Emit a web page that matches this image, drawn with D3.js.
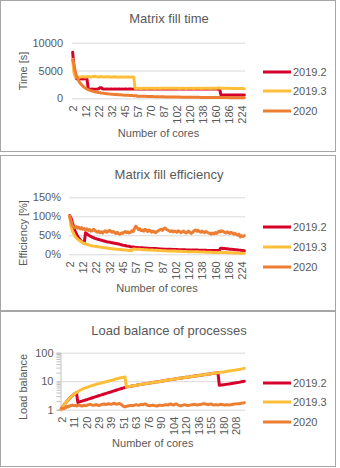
<!DOCTYPE html>
<html>
<head>
<meta charset="utf-8">
<script src="https://cdn.jsdelivr.net/npm/d3@7"></script>
<style>
  body { margin: 0; background: #fff; }
  text { font-family: "Liberation Sans", Arial, sans-serif; fill: #595959; }
</style>
</head>
<body>
<div id="chart"></div>
<script>
// core counts shared by all three charts (category axis)
var cores = [
  2,3,4,5,6,7,8,9,10,11,
  12,13,14,15,16,17,18,19,20,21,
  22,23,24,25,26,27,28,29,30,31,
  32,33,34,35,36,38,39,40,42,44,
  45,46,48,49,50,51,52,54,55,56,
  57,58,60,62,63,64,65,66,68,69,
  70,72,75,76,78,80,81,82,84,85,
  87,88,90,91,92,93,95,96,98,100,
  102,104,105,108,110,111,112,114,115,117,
  120,121,122,125,126,128,130,132,135,136,
  138,140,143,144,145,147,150,152,155,156,
  160,161,165,168,170,175,176,180,182,184,
  186,189,192,195,200,204,208,210,216,220,
  224,230,240
];

var versions = ["2019.2", "2019.3", "2020"];
var colors = ["#d6002b", "#fdbf3a", "#ed7d31"];

// matrix fill time [s]
var time2019_2 = [
  8300,5600,4300,3500,3500,3480,3500,3500,3480,3500,
  3500,3480,1650,1640,1650,1660,1650,1640,1650,1660,
  1700,1900,1920,1700,1660,1650,1670,1660,1650,1660,
  1660,1650,1670,1660,1650,1660,1670,1650,1660,1650,
  1660,1670,1650,1660,1670,1660,1650,1660,1670,1660,
  1650,1660,1670,1660,1650,1660,1670,1680,1660,1650,
  1660,1670,1660,1650,1660,1670,1660,1650,1660,1670,
  1660,1650,1660,1670,1680,1670,1660,1650,1660,1670,
  1660,1650,1660,1670,1660,1650,1660,1670,1660,1650,
  1660,1670,1680,1670,1660,1650,1660,1670,1660,1650,
  1660,1670,1660,1650,1660,1670,1680,1670,1660,1650,
  1660,1650,1670,1660,600,590,600,610,600,590,
  600,600,610,600,590,600,600,610,600,590,
  600,600,600
];
var time2019_3 = [
  7000,4600,3800,3820,3850,3800,3830,3870,3900,3850,
  3820,3880,3900,3860,3830,3870,3920,3950,3900,3870,
  3850,3880,3900,3870,3850,3830,3860,3880,3850,3830,
  3820,3850,3870,3850,3830,3800,3820,3850,3830,3810,
  3800,3820,3840,3820,3800,3810,3830,3800,1800,1780,
  1790,1800,1780,1770,1790,1810,1800,1780,1790,1800,
  1820,1800,1790,1780,1800,1810,1790,1780,1800,1820,
  1810,1790,1800,1820,1830,1810,1800,1790,1800,1810,
  1800,1790,1780,1800,1820,1810,1790,1780,1790,1800,
  1810,1800,1790,1780,1790,1800,1810,1800,1790,1780,
  1790,1800,1810,1820,1800,1790,1780,1790,1800,1810,
  1820,1830,1850,1840,1820,1800,1790,1780,1790,1800,
  1790,1780,1770,1780,1790,1780,1770,1760,1770,1760,
  1760,1750,1740
];
var time2020 = [
  6900,6100,4800,4000,3500,3000,2650,2400,2150,1950,
  1800,1650,1560,1480,1380,1320,1240,1180,1120,1080,
  1040,1010,960,930,890,860,830,800,780,750,
  730,710,700,680,670,650,660,640,610,580,
  570,560,540,530,520,510,500,480,470,460,
  370,390,385,375,365,358,352,346,340,334,
  325,320,305,300,295,285,280,275,270,265,
  260,255,250,245,245,240,235,230,228,225,
  220,215,212,208,205,200,198,195,192,190,
  185,183,182,178,176,174,170,168,165,163,
  160,158,155,153,152,150,148,146,144,142,
  140,138,135,133,132,130,128,126,125,124,
  122,120,118,117,115,113,112,111,110,108,
  106,105,104
];

// matrix fill efficiency [%]
var eff2019_2 = [
  102,96,84,73,62,54,47,42,38,34,
  31,29,57,54,51,49,47,45,44,42,
  41,40,39,38,37,36,35,34,33,32.5,
  32,31,30.5,30,29,28.5,28,27,26,25,
  24,23.5,23,22,21.5,21,20,19.5,19,18.5,
  18,18,17.5,17.5,17,17,16.5,16.5,16,16,
  16,15.5,15.5,15,15,15,14.5,14.5,14,14,
  14,13.5,13.5,13.5,13,13,13,13,12.5,12.5,
  12.5,12.5,12,12,12,12,12,12,11.5,11.5,
  11.5,11.5,11,11,11,11,11,11,10.5,10.5,
  10.5,10.5,10.5,10.5,10,10,10,10,10,10,
  10,10,10,10,16,16,15.5,15,14.5,14.5,
  14,13.5,13,13,12.5,12,12,11.5,11,10.5,
  10,10,9.5
];
var eff2019_3 = [
  100,74,62,55,48,43,40,37,35,32,
  30,29,27,26,25,24,23,22,21.5,21,
  20.5,20,19.5,19,18.5,18,17.5,17,16.5,16,
  15.5,15,14.5,14,14,13.5,13,13,12.5,12,
  12,11.5,11,11,10.5,10,10,9.5,14,14,
  13.5,13.5,13,13,12.5,12.5,12,12,12,11.5,
  11.5,11,11,11,10.5,10.5,10.5,10,10,10,
  9.5,9.5,9.5,9,9,9,9,8.5,8.5,8.5,
  8.5,8,8,8,8,7.5,7.5,7.5,7.5,7,
  7,7,7,7,6.5,6.5,6.5,6.5,6,6,
  6,6,6,5.5,5.5,5.5,5.5,5.5,5,5,
  5,5,5,5,4.5,4.5,4.5,4.5,4.5,4,
  4,4,4,4,3.5,3.5,3.5,3.5,3.5,3,
  3,3,3
];
var eff2020 = [
  100,88,76,72,70,73,69,71,67,70,
  66,68,64,67,63,65,61,62,66,63,
  60,58,61,57,59,56,60,62,58,60,
  63,61,58,60,57,55,58,54,53,56,
  55,58,60,57,59,56,58,62,60,68,
  74,70,65,67,62,64,61,66,63,60,
  64,62,58,61,59,57,60,62,64,66,
  63,67,69,66,64,62,60,62,59,61,
  60,58,62,60,57,59,61,58,56,59,
  61,57,55,58,62,64,61,63,60,58,
  61,59,57,60,58,56,55,53,56,54,
  57,55,58,61,59,62,60,58,56,59,
  57,55,58,56,53,55,52,50,53,46,
  49,47,49
];

// load balance of processes
var lb2019_2 = [
  1.0,1.2,1.45,1.7,1.95,2.2,2.5,2.8,3.1,3.4,
  3.7,4.0,1.8,1.87,1.94,2.0,2.08,2.15,2.23,2.31,
  2.4,2.48,2.57,2.67,2.76,2.86,2.97,3.08,3.19,3.3,
  3.42,3.55,3.68,3.81,3.95,4.09,4.24,4.4,4.56,4.72,
  4.9,5.07,5.26,5.45,5.65,5.85,6.1,6.3,6.4,6.5,
  6.6,6.75,6.9,7.1,7.2,7.35,7.5,7.6,7.8,7.9,
  8.05,8.2,8.4,8.55,8.7,8.85,9.0,9.15,9.3,9.5,
  9.65,9.8,10.0,10.2,10.4,10.6,10.8,11.0,11.2,11.4,
  11.6,11.8,12.0,12.2,12.4,12.6,12.8,13.0,13.2,13.4,
  13.7,13.9,14.1,14.4,14.6,14.8,15.1,15.3,15.6,15.8,
  16.1,16.3,16.6,16.9,17.1,17.4,17.7,18.0,18.3,18.6,
  18.9,19.2,19.5,19.8,7.2,7.3,7.4,7.5,7.6,7.75,
  7.9,8.0,8.15,8.3,8.45,8.6,8.75,8.9,9.1,9.3,
  9.5,9.7,10.0
];
var lb2019_3 = [
  1.0,1.2,1.45,1.7,1.95,2.2,2.5,2.8,3.1,3.4,
  3.7,4.0,4.3,4.6,4.9,5.2,5.45,5.7,5.95,6.2,
  6.45,6.7,6.95,7.2,7.45,7.7,7.95,8.2,8.45,8.7,
  8.95,9.2,9.45,9.7,9.95,10.4,10.65,10.9,11.4,11.9,
  12.15,12.4,12.9,13.15,13.4,13.65,13.9,6.3,6.4,6.5,
  6.6,6.75,6.9,7.1,7.2,7.35,7.5,7.6,7.8,7.9,
  8.05,8.2,8.4,8.55,8.7,8.85,9.0,9.15,9.3,9.5,
  9.65,9.8,10.0,10.2,10.4,10.6,10.8,11.0,11.2,11.4,
  11.6,11.8,12.0,12.2,12.4,12.6,12.8,13.0,13.2,13.4,
  13.7,13.9,14.1,14.4,14.6,14.8,15.1,15.3,15.6,15.8,
  16.1,16.3,16.6,16.9,17.1,17.4,17.7,18.0,18.3,18.6,
  18.9,19.2,19.5,19.8,20.1,20.5,20.8,21.2,21.5,21.9,
  22.3,22.7,23.1,23.5,24.0,24.4,24.9,25.4,25.9,26.4,
  27.0,27.7,28.5
];
var lb2020 = [
  1.1,1.12,1.1,1.15,1.3,1.25,1.35,1.4,1.45,1.38,
  1.42,1.35,1.4,1.45,1.38,1.35,1.4,1.42,1.38,1.45,
  1.5,1.55,1.48,1.42,1.45,1.52,1.48,1.4,1.45,1.5,
  1.55,1.6,1.52,1.55,1.62,1.58,1.55,1.6,1.68,1.62,
  1.55,1.6,1.65,1.55,1.45,1.3,1.25,1.3,1.35,1.38,
  1.4,1.42,1.38,1.45,1.5,1.45,1.42,1.5,1.55,1.48,
  1.6,1.55,1.45,1.4,1.38,1.42,1.45,1.4,1.38,1.35,
  1.4,1.45,1.42,1.4,1.45,1.48,1.5,1.45,1.55,1.6,
  1.5,1.45,1.55,1.6,1.48,1.42,1.38,1.42,1.45,1.5,
  1.45,1.4,1.42,1.45,1.48,1.5,1.55,1.5,1.45,1.48,
  1.52,1.55,1.6,1.62,1.58,1.55,1.5,1.55,1.6,1.52,
  1.45,1.5,1.48,1.45,1.5,1.55,1.52,1.48,1.45,1.5,
  1.48,1.45,1.5,1.52,1.55,1.58,1.6,1.62,1.6,1.65,
  1.7,1.72,1.75
];

var svg = d3.select("#chart").append("svg")
    .attr("width", 340)
    .attr("height", 468);

function drawPanel(p) {
    var g = svg.append("g");

    // chart frame
    g.append("rect")
        .attr("x", 0.5).attr("y", p.frameTop + 0.5)
        .attr("width", 335).attr("height", p.frameHeight)
        .attr("fill", "#fff")
        .attr("stroke", "#a6a6a6");

    g.append("text")
        .attr("x", 169).attr("y", p.titleY).attr("dy", "0.35em")
        .attr("text-anchor", "middle")
        .style("font-size", "13px")
        .text(p.title);

    var x = d3.scalePoint()
        .domain(cores)
        .range([p.left, p.right])
        .padding(0.5);

    var y = (p.log ? d3.scaleLog() : d3.scaleLinear())
        .domain(p.domain)
        .range([p.bottom, p.top]);

    // gridlines + y tick labels
    g.append("g")
        .attr("transform", "translate(" + p.left + ",0)")
        .call(d3.axisLeft(y)
            .tickValues(p.ticks)
            .tickFormat(p.format)
            .tickSize(-(p.right - p.left))
            .tickPadding(p.pad))
        .call(function(a) {
            a.select(".domain").remove();
            a.selectAll("line").attr("stroke", "#d9d9d9");
            a.selectAll("text").style("font-size", "11px").attr("fill", "#595959");
        });

    if (p.log) {
        // value axis line with minor ticks on the log scale
        g.append("g")
            .attr("transform", "translate(" + p.left + ",0)")
            .call(d3.axisLeft(y)
                .tickValues([1,2,3,4,5,6,7,8,9,10,20,30,40,50,60,70,80,90,100])
                .tickFormat("")
                .tickSizeOuter(0)
                .tickSize(4))
            .call(function(a) {
                a.select(".domain").attr("stroke", "#bfbfbf");
                a.selectAll("line").attr("stroke", "#bfbfbf");
            });
    }

    // category labels, rotated
    g.append("g")
        .attr("transform", "translate(0," + p.bottom + ")")
        .call(d3.axisBottom(x)
            .tickValues(cores.filter(function(d, i) { return i % p.every === 0; }))
            .tickSize(0))
        .call(function(a) {
            a.select(".domain").remove();
            a.selectAll("text")
                .attr("transform", "rotate(-90)")
                .attr("x", -7).attr("y", 0).attr("dy", "0.35em")
                .attr("text-anchor", "end")
                .attr("fill", "#595959")
                .style("font-size", "11px");
        });

    var line = d3.line()
        .x(function(d, i) { return x(cores[i]); })
        .y(function(d) { return y(d); });

    p.series.forEach(function(values, k) {
        g.append("path")
            .datum(values)
            .attr("d", line)
            .attr("fill", "none")
            .attr("stroke", colors[k])
            .attr("stroke-width", 3)
            .attr("stroke-linejoin", "round")
            .attr("stroke-linecap", "round");
    });

    // axis titles
    g.append("text")
        .attr("transform", "translate(23," + p.yTitleY + ") rotate(-90)")
        .attr("dy", "0.35em")
        .attr("text-anchor", "middle")
        .style("font-size", "11px")
        .text(p.yTitle);

    g.append("text")
        .attr("x", (p.left + p.right) / 2).attr("y", p.xTitleY).attr("dy", "0.35em")
        .attr("text-anchor", "middle")
        .style("font-size", "11px")
        .text("Number of cores");

    // legend
    var leg = g.selectAll(".leg")
        .data(versions)
        .enter().append("g")
        .attr("transform", function(d, i) { return "translate(263," + p.legendY[i] + ")"; });
    leg.append("line")
        .attr("x1", 0).attr("x2", 28)
        .attr("stroke", function(d, i) { return colors[i]; })
        .attr("stroke-width", 3);
    leg.append("text")
        .attr("x", 30).attr("dy", "0.35em")
        .style("font-size", "11px")
        .text(function(d) { return d; });
}

drawPanel({
    frameTop: 0, frameHeight: 151,
    title: "Matrix fill time", titleY: 18,
    left: 72, right: 245, top: 42.7, bottom: 98.3,
    domain: [0, 10000], ticks: [0, 5000, 10000],
    format: d3.format("d"), pad: 9, every: 10,
    series: [time2019_2, time2019_3, time2020],
    yTitle: "Time  [s]", yTitleY: 71, xTitleY: 133,
    legendY: [72, 91, 111]
});

drawPanel({
    frameTop: 155, frameHeight: 155,
    title: "Matrix fill efficiency", titleY: 174,
    left: 69, right: 245, top: 197.3, bottom: 254.3,
    domain: [0, 150], ticks: [0, 50, 100, 150],
    format: function(d) { return d + "%"; }, pad: 8, every: 10,
    series: [eff2019_2, eff2019_3, eff2020],
    yTitle: "Efficiency [%]", yTitleY: 233, xTitleY: 288,
    legendY: [227, 247, 267]
});

drawPanel({
    frameTop: 311, frameHeight: 155,
    title: "Load balance of processes", titleY: 330,
    left: 60.5, right: 245, top: 352.7, bottom: 409.7,
    domain: [1, 100], ticks: [1, 10, 100], log: true,
    format: d3.format("d"), pad: 7, every: 9,
    series: [lb2019_2, lb2019_3, lb2020],
    yTitle: "Load balance", yTitleY: 387, xTitleY: 443,
    legendY: [383, 402, 422]
});
</script>
</body>
</html>
